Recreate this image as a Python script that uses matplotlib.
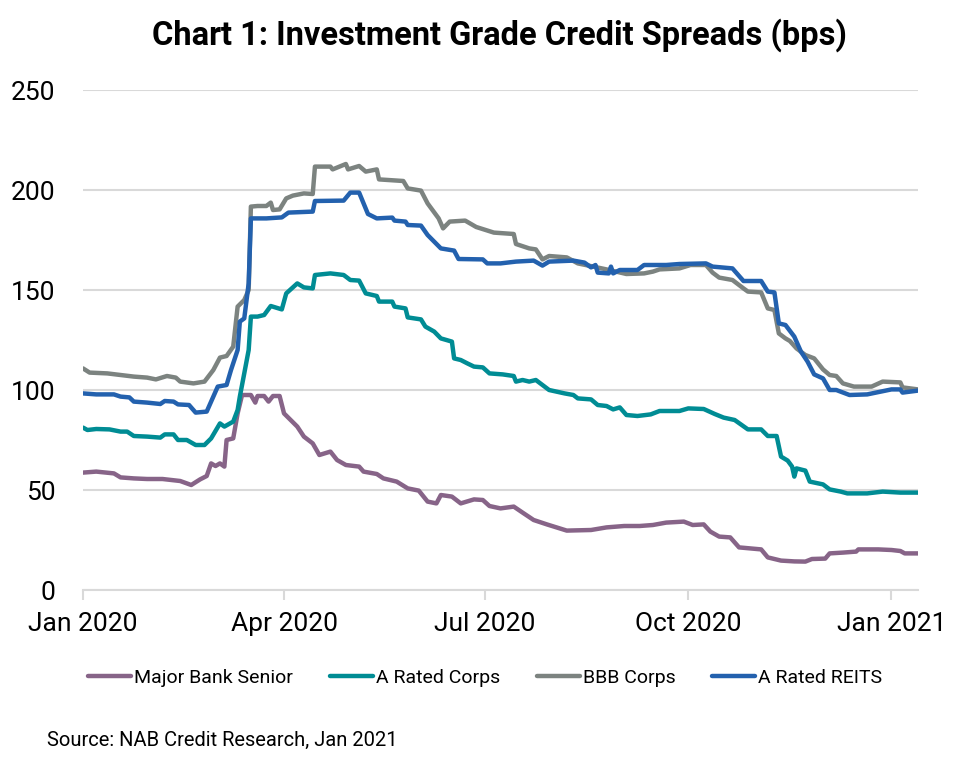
import matplotlib
matplotlib.use("Agg")
import matplotlib.pyplot as plt
import pandas as pd

plt.rcParams['font.family'] = ['Roboto', 'DejaVu Sans']

START = pd.Timestamp('2020-01-01')

# Day offsets from 1 Jan 2020 and spread values (bps)
bank_days = [0, 6, 14, 17, 23, 29, 36, 44, 49, 53, 56, 58, 60, 62, 64, 65, 68, 70, 72, 76, 78, 79, 82, 84, 86, 89,
             91, 94, 97, 100, 104, 107, 112, 115, 119, 125, 127, 133, 136, 142, 147, 152, 156, 160, 162, 167, 171,
             177, 181, 184, 189, 195, 199, 204, 210, 219, 230, 237, 245, 252, 258, 264, 272, 276, 281, 284, 288,
             293, 297, 302, 307, 310, 316, 322, 327, 330, 336, 338, 344, 350, 351, 360, 366, 370, 372, 378]
bank_vals = [58.7, 59.2, 58.3, 56.3, 55.8, 55.5, 55.5, 54.5, 52.5, 55.3, 57, 63.3, 62, 63.3, 61.7, 75, 75.8, 88.3,
             97.5, 97.5, 93.7, 97, 97, 94.2, 97, 97, 88.3, 85, 81.7, 76.7, 73.3, 67.5, 69.2, 65, 62.5, 61.7, 59.2,
             58, 55.8, 54.2, 50.8, 49.7, 44.2, 43.3, 47.5, 46.7, 43.3, 45.3, 45, 42, 40.8, 41.7, 38.7, 35, 32.8,
             29.7, 30, 31.3, 32, 32, 32.5, 33.7, 34.2, 32.5, 32.8, 29.2, 26.7, 26.3, 21.3, 20.8, 20.3, 16.3, 14.7,
             14.3, 14.2, 15.5, 15.7, 18.3, 18.7, 19.2, 20.3, 20.3, 20, 19.5, 18.3, 18.3]

acorp_days = [0, 2, 6, 12, 17, 20, 23, 29, 35, 37, 41, 43, 47, 51, 55, 58, 62, 64, 68, 70, 71, 73, 75, 76, 79, 82,
              85, 90, 92, 97, 100, 104, 105, 112, 118, 121, 125, 128, 133, 134, 140, 141, 146, 147, 153, 155, 159,
              162, 167, 168, 171, 174, 177, 181, 184, 190, 195, 196, 199, 202, 205, 208, 211, 218, 222, 224, 230,
              233, 237, 240, 243, 246, 251, 257, 261, 270, 274, 281, 286, 290, 295, 301, 307, 310, 314, 316, 319,
              321, 322, 323, 327, 329, 335, 338, 343, 346, 355, 362, 370, 378]
acorp_vals = [81.2, 80, 80.5, 80.3, 79.2, 79.2, 77, 76.7, 76.2, 77.8, 77.8, 75, 75, 72.5, 72.5, 75.8, 83.3, 81.7,
              84.2, 90, 96.7, 108.3, 120, 136.7, 136.7, 137.5, 142, 140.3, 148.3, 153.3, 151.3, 150.8, 157.5, 158.3,
              157.5, 155, 154.7, 148.3, 147, 144.2, 144.2, 141.7, 140.8, 136.3, 135.3, 131.7, 129.2, 125.8, 124.2,
              115.8, 115, 113.3, 111.7, 111.3, 108.3, 107.8, 107, 104.2, 105, 104.2, 105, 102.5, 100, 98.3, 97.5,
              95.8, 95.3, 92.5, 92, 90.3, 91.3, 87.5, 87, 87.8, 89.5, 89.5, 90.8, 90.5, 88, 86.2, 85, 80.3, 80.3,
              77, 77, 66.7, 64.7, 61.7, 56.7, 60.8, 59.7, 54.2, 52.8, 50.3, 49.2, 48.3, 48.3, 49.2, 48.7, 48.7]

bbb_days = [0, 3, 11, 17, 23, 29, 33, 38, 42, 44, 50, 55, 59, 62, 65, 68, 69, 70, 73, 75, 76, 79, 83, 85, 86, 89,
            92, 95, 100, 104, 105, 112, 113, 119, 120, 125, 128, 133, 134, 145, 147, 153, 156, 161, 163, 166, 173,
            178, 186, 195, 196, 202, 205, 208, 211, 219, 224, 231, 237, 246, 254, 258, 261, 270, 275, 282, 285,
            288, 294, 299, 301, 307, 310, 313, 315, 318, 320, 323, 327, 331, 335, 338, 341, 344, 349, 357, 362,
            370, 371, 378]
bbb_vals = [110.8, 108.7, 108.3, 107.5, 106.7, 106.2, 105.3, 107, 106.2, 104.2, 103.3, 104.2, 110, 116.2, 117,
            121.7, 131.7, 141.7, 145, 150, 191.7, 192, 192, 193.7, 190, 190.3, 195.8, 197.2, 198.3, 198, 211.7,
            211.7, 210.3, 213, 210.3, 212, 209.2, 210.3, 205.3, 204.5, 200.8, 199.7, 193.3, 185.8, 180.8, 184.2,
            184.7, 181.5, 178.7, 178, 173, 170.8, 170.3, 165.3, 167, 166.3, 163.3, 161.7, 160.3, 158, 158.3, 159.2,
            160.3, 160.8, 162.5, 162.5, 158.7, 156.2, 155, 150.8, 149.2, 148.8, 140.8, 140, 128.3, 125.8, 124.5,
            120.8, 117.5, 115.8, 110.3, 107.5, 107, 103.3, 101.7, 101.7, 104.2, 103.8, 101.3, 100.3]

reit_days = [0, 6, 14, 17, 21, 23, 29, 35, 37, 41, 43, 48, 51, 56, 59, 61, 65, 67, 70, 71, 73, 75, 76, 83, 90, 93,
             104, 105, 118, 121, 125, 129, 133, 140, 141, 146, 147, 153, 156, 162, 168, 170, 181, 183, 189, 196,
             204, 208, 211, 222, 227, 230, 232, 233, 238, 239, 240, 243, 251, 254, 264, 270, 282, 285, 294, 299,
             307, 310, 313, 315, 318, 322, 325, 328, 331, 335, 338, 341, 347, 355, 366, 370, 371, 378]
reit_vals = [98.3, 97.8, 97.8, 96.7, 96.3, 94.2, 93.7, 93, 94.5, 94.2, 92.8, 92.5, 88.7, 89.2, 96.7, 101.7, 102.5,
             110, 120, 134.2, 135.8, 153.3, 185.8, 185.8, 186.3, 188.7, 189.2, 194.5, 194.7, 198.7, 198.7, 188,
             185.8, 186.2, 184.7, 184.2, 182.5, 182.2, 177.5, 170.8, 169.7, 165.5, 165.3, 163.3, 163.3, 164.2,
             164.7, 162.2, 164.2, 164.7, 163.7, 161.3, 162.5, 158.7, 158.3, 161.7, 158.3, 160, 160, 162.5, 162.5,
             163, 163.3, 161.7, 160.8, 154.5, 154.5, 149.2, 148.8, 133.3, 132.5, 126.7, 119.2, 114.2, 107.8, 105.8,
             100, 100, 97.5, 97.8, 100.3, 100.3, 98.7, 99.7]

series_names = ['Major Bank Senior', 'A Rated Corps', 'BBB Corps', 'A Rated REITS']
series_colors = ['#876488', '#008C94', '#7C8380', '#2361AE']
series_days = [bank_days, acorp_days, bbb_days, reit_days]
series_vals = [bank_vals, acorp_vals, bbb_vals, reit_vals]

y_ticks = [0, 50, 100, 150, 200, 250]
x_ticks = ['2020-01-01', '2020-04-01', '2020-07-01', '2020-10-01', '2021-01-01']
x_labels = ['Jan 2020', 'Apr 2020', 'Jul 2020', 'Oct 2020', 'Jan 2021']

fig = plt.figure(figsize=(9.61, 7.67), dpi=100)
ax = fig.add_axes([83 / 961, 1 - 590 / 767, (918 - 83) / 961, 500 / 767])

for name, col, d, v in zip(series_names, series_colors, series_days, series_vals):
    dates = START + pd.to_timedelta(d, unit='D')
    ax.plot(dates, v, color=col, lw=3.2, label=name, solid_joinstyle='round', solid_capstyle='round')

ax.set_ylim(0, 250)
ax.set_yticks(y_ticks)
ax.set_xlim(START, START + pd.Timedelta(days=378))
ax.set_xticks(pd.to_datetime(x_ticks))
ax.set_xticklabels(x_labels)

ax.grid(axis='y', color='#D9D9D9', lw=1.5)
ax.set_axisbelow(True)
for s in ['left', 'right', 'top']:
    ax.spines[s].set_visible(False)
ax.spines['bottom'].set_color('#D9D9D9')
ax.spines['bottom'].set_linewidth(1.5)

ax.tick_params(axis='y', length=0, pad=20, labelsize=19, labelcolor='black')
ax.tick_params(axis='x', length=7, width=1.5, color='#D9D9D9', pad=9, labelsize=19, labelcolor='black')

fig.text(0.52, 1 - 35 / 767, 'Chart 1: Investment Grade Credit Spreads (bps)', ha='center', va='center',
         fontsize=23.5, fontweight='bold')

fig.legend(loc='center', bbox_to_anchor=(0.505, 1 - 678 / 767), ncol=4, frameon=False, fontsize=14,
           handlelength=2.2, handletextpad=0.15, columnspacing=1.9)

fig.text(47 / 961, 1 - 740 / 767, 'Source: NAB Credit Research, Jan 2021', ha='left', va='center', fontsize=14.5)

fig.savefig('out.png', dpi=100)
